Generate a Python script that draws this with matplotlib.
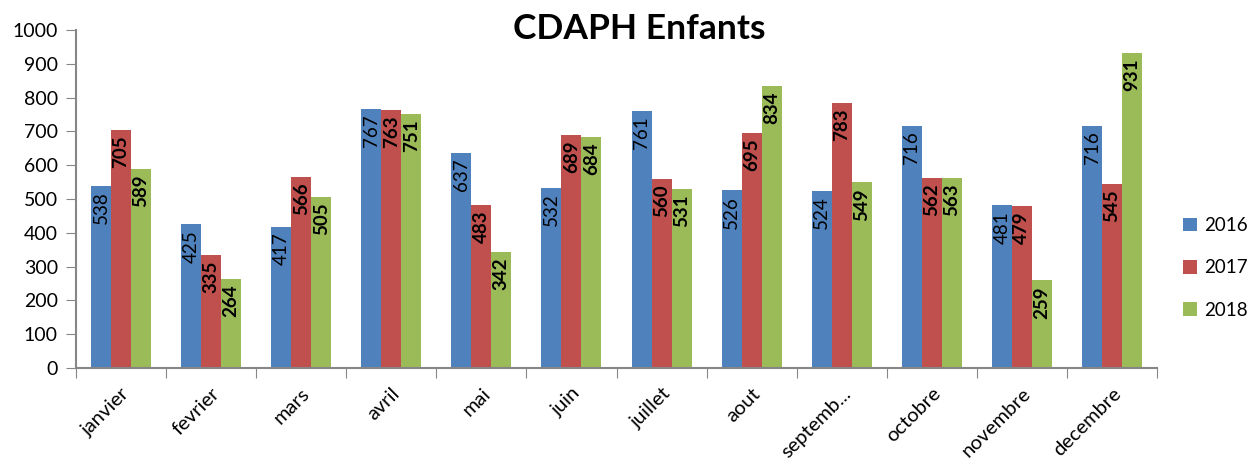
import numpy as np
import matplotlib.pyplot as plt

plt.rcParams['font.family'] = ['Lato', 'DejaVu Sans']

# données
mois = ['janvier', 'fevrier', 'mars', 'avril', 'mai', 'juin', 'juillet',
        'aout', 'septemb...', 'octobre', 'novembre', 'decembre']
annees = ['2016', '2017', '2018']
v2016 = [538, 425, 417, 767, 637, 532, 761, 526, 524, 716, 481, 716]
v2017 = [705, 335, 566, 763, 483, 689, 560, 695, 783, 562, 479, 545]
v2018 = [589, 264, 505, 751, 342, 684, 531, 834, 549, 563, 259, 931]
couleurs = ['#4F81BD', '#C0504D', '#9BBB59']

fig = plt.figure(figsize=(12.6, 4.66), dpi=100)
ax = fig.add_axes([0.0603, 0.2103, 0.858, 0.7253])

x = np.arange(len(mois))
w = 0.222
series = [v2016, v2017, v2018]
for i, (vals, c, lab) in enumerate(zip(series, couleurs, annees)):
    pos = x + (i - 1) * w
    ax.bar(pos, vals, width=w, color=c, label=lab, zorder=2)
    poids = 'normal' if i == 0 else 'bold'
    for p, v in zip(pos, vals):
        ax.annotate(str(v), (p, v), xytext=(0, -4), textcoords='offset points',
                    rotation=90, ha='center', va='top', fontsize=13.5,
                    fontweight=poids, color='black')

ax.set_xlim(-0.5, len(mois) - 0.5)
ax.set_ylim(0, 1000)
ax.set_yticks(np.arange(0, 1001, 100))
ax.tick_params(axis='y', labelsize=14, length=7, pad=6, color='#868686', direction='out')

# ticks aux limites des catégories, étiquettes au centre
ax.set_xticks(np.arange(-0.5, len(mois), 1))
ax.set_xticklabels([])
ax.tick_params(axis='x', which='major', length=7, color='#868686', direction='out')
ax.set_xticks(x, minor=True)
ax.set_xticklabels(mois, minor=True, rotation=45, ha='right', rotation_mode='anchor',
                   fontsize=14.5)
ax.tick_params(axis='x', which='minor', length=0, pad=12)

for s in ['top', 'right']:
    ax.spines[s].set_visible(False)
for s in ['left', 'bottom']:
    ax.spines[s].set_color('#868686')
    ax.spines[s].set_linewidth(1.5)

fig.text(0.507, 0.938, 'CDAPH Enfants', fontsize=25.5, fontweight='bold',
         ha='center', va='center')

fig.legend(loc='center left', bbox_to_anchor=(0.93, 0.425), frameon=False,
           fontsize=13.5, handlelength=0.75, handleheight=0.75, handletextpad=0.35,
           labelspacing=1.35, borderaxespad=0.2)

fig.savefig('out.png', dpi=100)
